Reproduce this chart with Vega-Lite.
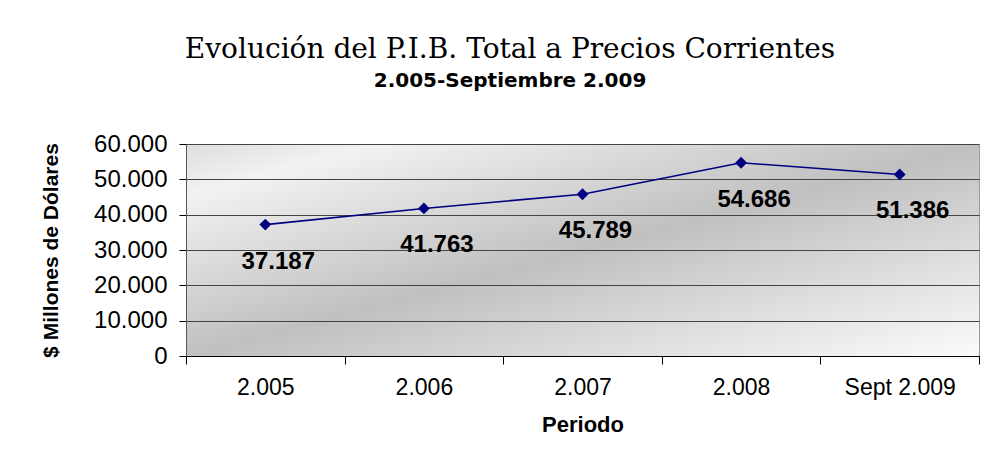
{
  "$schema": "https://vega.github.io/schema/vega-lite/v6.json",
  "width": 793,
  "height": 212,
  "autosize": {"type": "none"},
  "padding": {"left": 186, "top": 144, "right": 9, "bottom": 110},
  "background": "white",
  "title": {
    "text": "Evolución del P.I.B. Total a Precios Corrientes",
    "subtitle": "2.005-Septiembre 2.009",
    "anchor": "middle",
    "frame": "bounds",
    "offset": 41,
    "font": "DejaVu Serif",
    "fontSize": 28,
    "fontWeight": "normal",
    "color": "#000000",
    "subtitleFont": "DejaVu Sans",
    "subtitleFontSize": 20,
    "subtitleFontWeight": "bold",
    "subtitleColor": "#000000",
    "subtitlePadding": 7
  },
  "data": {
    "values": [
      {"periodo": "2.005", "pib": 37187},
      {"periodo": "2.006", "pib": 41763},
      {"periodo": "2.007", "pib": 45789},
      {"periodo": "2.008", "pib": 54686},
      {"periodo": "Sept 2.009", "pib": 51386}
    ]
  },
  "encoding": {
    "x": {
      "field": "periodo",
      "type": "nominal",
      "sort": null,
      "bandPosition": 0.5,
      "scale": {"type": "band", "paddingInner": 0, "paddingOuter": 0},
      "axis": {
        "title": "Periodo",
        "labelAngle": 0,
        "tickBand": "extent",
        "domainColor": "#000000",
        "tickColor": "#000000",
        "tickSize": 8,
        "labelFont": "Liberation Sans",
        "labelFontSize": 23,
        "labelColor": "#000000",
        "labelPadding": 12,
        "titleFont": "Liberation Sans",
        "titleFontSize": 22,
        "titleFontWeight": "bold",
        "titleColor": "#000000",
        "titlePadding": 15
      }
    },
    "y": {
      "field": "pib",
      "type": "quantitative",
      "scale": {"domain": [0, 60000], "nice": false},
      "axis": {
        "title": "$ Millones de Dólares",
        "values": [0, 10000, 20000, 30000, 40000, 50000, 60000],
        "format": ",d",
        "grid": true,
        "gridColor": "#444444",
        "gridWidth": 1,
        "domainColor": "#555555",
        "tickColor": "#000000",
        "tickSize": 7,
        "labelFont": "Liberation Sans",
        "labelFontSize": 24,
        "labelColor": "#000000",
        "labelPadding": 12,
        "titleFont": "Liberation Sans",
        "titleFontSize": 21,
        "titleFontWeight": "bold",
        "titleColor": "#000000",
        "titlePadding": 32
      }
    }
  },
  "layer": [
    {"mark": {"type": "line", "color": "#000080", "strokeWidth": 1.6}},
    {"mark": {"type": "point", "shape": "diamond", "filled": true, "color": "#000080", "size": 140, "opacity": 1}},
    {
      "mark": {"type": "text", "dx": 13, "dy": 37, "font": "Liberation Sans", "fontSize": 24, "fontWeight": "bold", "color": "#000000", "align": "center", "baseline": "middle"},
      "encoding": {"text": {"field": "pib", "type": "quantitative", "format": ",d"}}
    }
  ],
  "config": {
    "locale": {"number": {"decimal": ",", "thousands": ".", "grouping": [3], "currency": ["$", ""]}},
    "view": {
      "stroke": "#999999",
      "fill": {
        "gradient": "linear",
        "x1": 0, "y1": 0, "x2": 1, "y2": 1,
        "stops": [
          {"offset": 0, "color": "#dedede"},
          {"offset": 0.12, "color": "#f2f2f2"},
          {"offset": 0.5, "color": "#c0c0c0"},
          {"offset": 1, "color": "#fbfbfb"}
        ]
      }
    }
  }
}
